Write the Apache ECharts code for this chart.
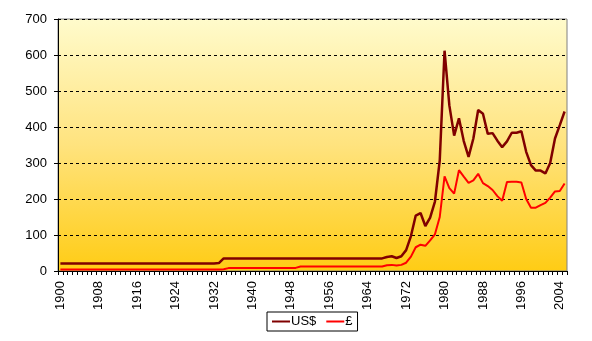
<!DOCTYPE html>
<html>
<head>
<meta charset="utf-8">
<script src="https://cdn.jsdelivr.net/npm/echarts@6/dist/echarts.min.js"></script>
<style>
html,body{margin:0;padding:0;background:#fff;}
#c{width:592px;height:341px;}
</style>
</head>
<body>
<div id="c"></div>
<script>
// Years 1900..2005
var years = [];
for (var y = 1900; y <= 2005; y++) years.push(String(y));

// US$ per troy ounce
var usd = [
  // 1900-1932
  20.67,20.67,20.67,20.67,20.67,20.67,20.67,20.67,20.67,20.67,
  20.67,20.67,20.67,20.67,20.67,20.67,20.67,20.67,20.67,20.67,
  20.67,20.67,20.67,20.67,20.67,20.67,20.67,20.67,20.67,20.67,
  20.67,20.67,20.67,
  // 1933
  22,
  // 1934-1967
  35,35,35,35,35,35,35,35,35,35,
  35,35,35,35,35,35,35,35,35,35,
  35,35,35,35,35,35,35,35,35,35,
  35,35,35,35,
  // 1968-2005
  39,41,36,41,58,97,154,161,125,148,
  193,307,612,460,376,424,361,317,368,447,
  437,381,383,362,344,360,384,384,388,331,
  294,279,279,271,300,368,405,443
];

// £ per troy ounce
var gbp = [
  // 1900-1934
  4.25,4.25,4.25,4.25,4.25,4.25,4.25,4.25,4.25,4.25,
  4.25,4.25,4.25,4.25,4.25,4.25,4.25,4.25,4.25,4.25,
  4.25,4.25,4.25,4.25,4.25,4.25,4.25,4.25,4.25,4.25,
  4.25,4.25,4.25,4.25,4.6,
  // 1935-1949
  8,8,8,8,8.4,8.4,8.4,8.4,8.4,8.4,
  8.4,8.6,8.6,8.6,8.6,
  // 1950-1967
  12.5,12.5,12.5,12.5,12.5,12.5,12.5,12.5,12.5,12.5,
  12.5,12.5,12.5,12.5,12.5,12.5,12.5,12.5,
  // 1968-2005
  16,17,15,17,23,40,66,73,70,85,
  102,150,263,230,215,280,262,245,252,270,
  244,236,225,208,195,247,248,248,246,200,
  176,176,183,189,204,221,222,243
];

var chart = echarts.init(document.getElementById('c'), null, {renderer:'canvas'});
var font = 'Liberation Sans, Arial, sans-serif';
chart.setOption({
  animation: false,
  backgroundColor: '#ffffff',
  grid: {
    left: 58, right: 25, top: 19, bottom: 70,
    show: true,
    borderColor: '#808080',
    borderWidth: 1,
    backgroundColor: {
      type: 'linear', x: 0, y: 0, x2: 0, y2: 1,
      colorStops: [
        {offset: 0, color: '#FFFBCC'},
        {offset: 0.5, color: '#FFE37E'},
        {offset: 1, color: '#FFCC14'}
      ]
    }
  },
  legend: {
    orient: 'horizontal',
    left: 267, top: 312,
    icon: 'rect',
    itemWidth: 18, itemHeight: 2, itemGap: 10,
    padding: [3, 5, 3, 5],
    borderColor: '#000', borderWidth: 1, borderRadius: 0,
    textStyle: {fontFamily: font, fontSize: 13, color: '#000', padding: [0,0,0,-4]},
    data: ['US$', '£']
  },
  xAxis: {
    type: 'category',
    data: years,
    boundaryGap: true,
    axisLine: {lineStyle: {color: '#000', width: 1}},
    axisTick: {show: true, interval: 0, length: 4, lineStyle: {color: '#000'}},
    axisLabel: {interval: 7, rotate: 90, margin: 10, fontFamily: font, fontSize: 13, color: '#000'},
    splitLine: {show: false}
  },
  yAxis: {
    type: 'value',
    min: 0, max: 700, interval: 100,
    axisLine: {show: true, lineStyle: {color: '#000', width: 1}},
    axisTick: {show: true, length: 4, lineStyle: {color: '#000'}},
    axisLabel: {margin: 11, fontFamily: font, fontSize: 13, color: '#000'},
    splitLine: {show: true, lineStyle: {color: '#000', type: [3, 3], width: 1}}
  },
  series: [
    {
      name: 'US$', type: 'line', data: usd,
      symbol: 'none', showSymbol: false,
      lineStyle: {color: '#800000', width: 2.5},
      itemStyle: {color: '#800000'}
    },
    {
      name: '£', type: 'line', data: gbp,
      symbol: 'none', showSymbol: false,
      lineStyle: {color: '#FF0000', width: 2},
      itemStyle: {color: '#FF0000'}
    }
  ]
});
</script>
</body>
</html>
